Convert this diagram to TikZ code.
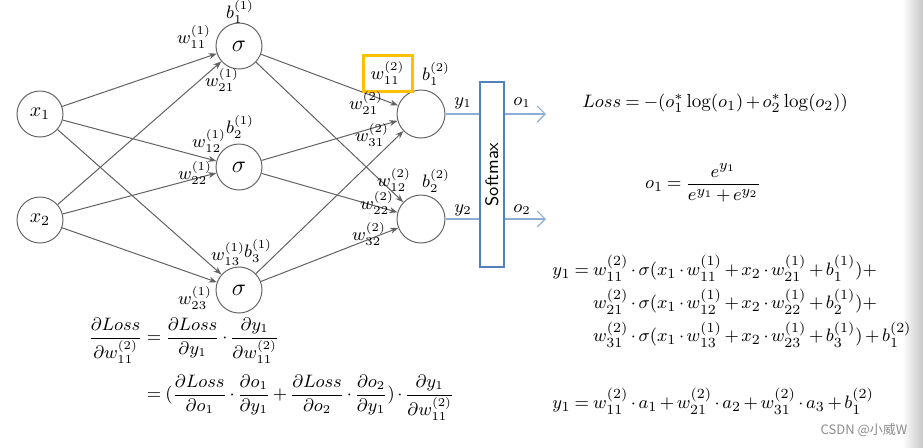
\documentclass[tikz,border=0pt]{standalone}
\usepackage{amsmath}
\usepackage{fontspec}
\newfontfamily\cjkfont{Noto Sans CJK SC}
\usetikzlibrary{arrows.meta}
\definecolor{softblue}{RGB}{79,129,189}
\definecolor{lineblue}{RGB}{141,172,214}
\definecolor{markorange}{RGB}{255,192,0}
\newcommand{\eqfont}{\fontsize{9.5}{11.5}\selectfont\medmuskip=2.5mu\thickmuskip=4mu}
\begin{document}
\begin{tikzpicture}[x=0.5pt,y=-0.5pt,
    neuron/.style={circle,draw=black!60,line width=0.5pt,minimum size=23pt,inner sep=0pt},
    weight/.style={font=\fontsize{9}{10}\selectfont,inner sep=0pt},
    conn/.style={draw=black!62,line width=0.5pt,-{Stealth[length=4pt,width=3pt]}},
    yline/.style={draw=lineblue,line width=0.6pt},
    eqn/.style={inner sep=0pt,font=\eqfont}]
    \useasboundingbox (0,0) rectangle (923,447);
    \shade[left color=white,right color=black!22] (902,0) rectangle (923,447);
    % input layer
    \node[neuron] (x1) at (40,114) {$x_1$};
    \node[neuron] (x2) at (40,220) {$x_2$};
    % hidden layer
    \node[neuron] (h1) at (239,46) {\large$\sigma$};
    \node[neuron] (h2) at (239,167) {\large$\sigma$};
    \node[neuron] (h3) at (239,290) {\large$\sigma$};
    % output layer
    \node[neuron,minimum size=24pt] (out1) at (421,114) {};
    \node[neuron,minimum size=24pt] (out2) at (421,219) {};
    \foreach \i in {1,2}
        \foreach \j in {1,2,3}
            \draw[conn] (x\i) -- (h\j);
    \foreach \j in {1,2,3}
        \foreach \k in {1,2}
            \draw[conn] (h\j) -- (out\k);
    % weights and biases
    \node[weight] (b11) at (240,12) {$b_1^{(1)}$};
    \node[weight] (w111) at (194,37) {$w_{11}^{(1)}$};
    \node[weight] (w121) at (222,80) {$w_{21}^{(1)}$};
    \node[weight] (b21) at (240,127) {$b_2^{(1)}$};
    \node[weight] (w112) at (209,141) {$w_{12}^{(1)}$};
    \node[weight] (w122) at (195,173) {$w_{22}^{(1)}$};
    \node[weight] (w113) at (228,254) {$w_{13}^{(1)}$};
    \node[weight] (b31) at (258,251) {$b_3^{(1)}$};
    \node[weight] (w123) at (195,298) {$w_{23}^{(1)}$};
    \node[weight,draw=markorange,line width=1.5pt,minimum width=24.5pt,minimum height=18pt] (w211) at (387.5,73) {$w_{11}^{(2)}$};
    \node[weight] (b12) at (436,74) {$b_1^{(2)}$};
    \node[weight] (w221) at (366,103) {$w_{21}^{(2)}$};
    \node[weight] (w231) at (372,135) {$w_{31}^{(2)}$};
    \node[weight] (b22) at (436,181) {$b_2^{(2)}$};
    \node[weight] (w212) at (394,180) {$w_{12}^{(2)}$};
    \node[weight] (w222) at (377,203) {$w_{22}^{(2)}$};
    \node[weight] (w232) at (369,234) {$w_{32}^{(2)}$};
    % softmax
    \node[draw=softblue,line width=1pt,minimum width=12pt,minimum height=92.5pt,inner sep=0pt] (sm) at (492,174.5) {};
    \node[rotate=90,font=\sffamily\small] (smtext) at (sm) {Softmax};
    \coordinate (o1end) at (546,114);
    \coordinate (o2end) at (546,219);
    \draw[yline] (out1) -- (out1 -| sm.west);
    \draw[yline] (out2) -- (out2 -| sm.west);
    \draw[yline,-{Straight Barb[length=4pt]}] (sm.east |- o1end) -- (o1end);
    \draw[yline,-{Straight Barb[length=4pt]}] (sm.east |- o2end) -- (o2end);
    \node[weight] (y1) at (463,103) {$y_1$};
    \node[weight] (y2) at (463,210) {$y_2$};
    \node[weight] (o1) at (522,103) {$o_1$};
    \node[weight] (o2) at (522,210) {$o_2$};
    % formulas
    \node[eqn,anchor=west] (loss) at (582,103) {$Loss = -(o_1^{*}\log(o_1)+o_2^{*}\log(o_2))$};
    \node[eqn] (soft) at (703,183) {$o_1 = \dfrac{e^{y_1}}{e^{y_1}+e^{y_2}}$};
    \node[eqn,anchor=north west] (ysum) at (552,255) {$\begin{aligned}
        y_1 = {}& w_{11}^{(2)}\cdot\sigma(x_1\cdot w_{11}^{(1)}+x_2\cdot w_{21}^{(1)}+b_1^{(1)})+\\[-1pt]
        & w_{21}^{(2)}\cdot\sigma(x_1\cdot w_{12}^{(1)}+x_2\cdot w_{22}^{(1)}+b_2^{(1)})+\\[-1pt]
        & w_{31}^{(2)}\cdot\sigma(x_1\cdot w_{13}^{(1)}+x_2\cdot w_{23}^{(1)}+b_3^{(1)})+b_1^{(2)}
    \end{aligned}$};
    \node[eqn,anchor=west] (yshort) at (552,401) {$y_1 = w_{11}^{(2)}\cdot a_1+w_{21}^{(2)}\cdot a_2+w_{31}^{(2)}\cdot a_3+b_1^{(2)}$};
    \node[eqn,anchor=north west,font=\eqfont\fontsize{8.8}{10.5}\selectfont] (grad) at (88,318) {$\begin{aligned}
        \frac{\partial Loss}{\partial w_{11}^{(2)}} &= \frac{\partial Loss}{\partial y_1}\cdot\frac{\partial y_1}{\partial w_{11}^{(2)}}\\[2pt]
        &= (\frac{\partial Loss}{\partial o_1}\cdot\frac{\partial o_1}{\partial y_1}+\frac{\partial Loss}{\partial o_2}\cdot\frac{\partial o_2}{\partial y_1})\cdot\frac{\partial y_1}{\partial w_{11}^{(2)}}
    \end{aligned}$};
    \node[font=\cjkfont\fontsize{6.5}{8}\selectfont,text=black!45] (mark) at (864,430) {CSDN @小威W};
\end{tikzpicture}
\end{document}
